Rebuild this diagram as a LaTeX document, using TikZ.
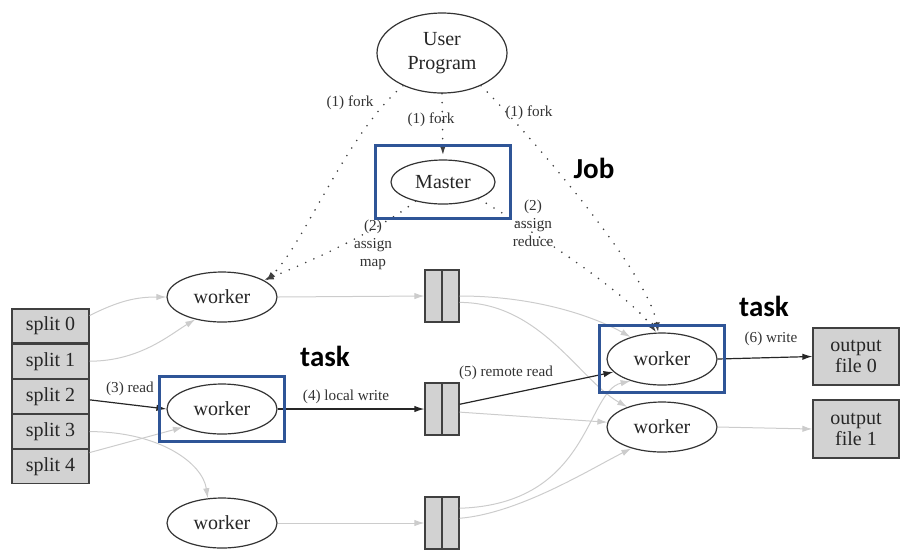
\documentclass[tikz,border=0pt]{standalone}
\usepackage{fontspec}
\setmainfont{Liberation Serif}
\newfontfamily\tagfont{Carlito}
\usetikzlibrary{positioning, fit, shapes.geometric, arrows.meta}
\definecolor{boxblue}{RGB}{47,85,151}

\begin{document}
\begin{tikzpicture}[x=0.5pt, y=-0.5pt]

    \tikzset{
        proc/.style = {ellipse, draw=black!80, line width=0.6pt, inner sep=0pt, minimum width=55pt, minimum height=25pt, font=\fontsize{10}{12}\selectfont, text=black!85},
        splitbox/.style = {rectangle, draw=black!75, line width=0.6pt, fill=gray!35, minimum width=38.5pt, minimum height=17pt, inner sep=0pt, font=\fontsize{10}{12}\selectfont, text=black!85},
        inter/.style = {rectangle, draw=black!75, line width=0.6pt, fill=gray!35, minimum width=17pt, minimum height=26pt, inner sep=0pt},
        outfile/.style = {rectangle, draw=black!75, line width=0.6pt, fill=gray!35, minimum width=43pt, minimum height=28.5pt, inner sep=0pt, align=center, font=\fontsize{10}{10.5}\selectfont, text=black!85},
        lbl/.style = {font=\fontsize{7.6}{9}\selectfont, text=black!80, align=center, inner sep=0pt},
        tagtext/.style = {font=\tagfont\bfseries\fontsize{14.5}{16}\selectfont, inner sep=0pt},
        taskframe/.style = {draw=boxblue, line width=1.2pt, inner sep=3.5pt},
        arrow/.style = {line width=0.6pt, draw=black!85, -{Latex[length=5pt, width=3.2pt]}},
        flow/.style = {line width=0.5pt, draw=gray!40, -{Latex[length=5pt, width=3.2pt]}},
        ctrl/.style = {line width=0.9pt, draw=black!75, dash pattern=on 0pt off 4.5pt, line cap=round, -{Latex[length=5pt, width=3.2pt]}}
    }

    \useasboundingbox (0,0) rectangle (905,559);

    \node (up) [proc, minimum width=65pt, minimum height=40pt, align=center] at (442,53) {User\\Program};
    \node (m) [proc, minimum width=52pt, minimum height=22pt] at (443,182) {Master};

    \node (w1) [proc] at (222,297) {worker};
    \node (w2) [proc] at (222,409) {worker};
    \node (w3) [proc] at (222,523) {worker};

    \node (s0) [splitbox] at (50.5,326) {split 0};
    \node (s1) [splitbox, below=0pt of s0] {split 1};
    \node (s2) [splitbox, below=0pt of s1] {split 2};
    \node (s3) [splitbox, below=0pt of s2] {split 3};
    \node (s4) [splitbox, below=0pt of s3] {split 4};

    \node (f1) [inter] at (442,296) {};
    \node (f2) [inter] at (442,409) {};
    \node (f3) [inter] at (442,523) {};
    \draw [line width=0.6pt, draw=black!75] (f1.north) -- (f1.south);
    \draw [line width=0.6pt, draw=black!75] (f2.north) -- (f2.south);
    \draw [line width=0.6pt, draw=black!75] (f3.north) -- (f3.south);

    \node (r1) [proc, minimum height=26pt] at (662,359) {worker};
    \node (r2) [proc] at (662,427) {worker};

    \node (o0) [outfile] at (856,356.5) {output\\file 0};
    \node (o1) [outfile, minimum height=29pt] at (856,429) {output\\file 1};

    \node (fkl) [lbl] at (350,103) {(1) fork};
    \node (fkm) [lbl] at (431,120) {(1) fork};
    \node (fkr) [lbl] at (529,113) {(1) fork};
    \node (amap) [lbl] at (373,245) {(2)\\assign\\map};
    \node (ared) [lbl] at (533,223) {(2)\\assign\\reduce};
    \node (rd) [lbl] at (130,389) {(3) read};
    \node (lw) [lbl] at (346,397) {(4) local write};
    \node (rr) [lbl] at (506,373) {(5) remote read};
    \node (wr) [lbl] at (771,339) {(6) write};

    \draw [ctrl] (up.220) .. controls +(-57,48) and +(38,-36) .. (w1.20);
    \draw [ctrl, shorten >=2pt] (up.south) -- (m.north);
    \draw [ctrl] (up.-40) .. controls +(50,50) and +(-10,-60) .. (r1.98);
    \draw [ctrl] (m.215) .. controls +(-36,29) and +(43,-17) .. (w1.22);
    \draw [ctrl] (m.-25) .. controls +(50,30) and +(-30,-40) .. (r1.102);

    \draw [flow] (s0.15) .. controls +(30,-15) and +(-30,0) .. (w1.west);
    \draw [flow] (s1.east) .. controls +(50,0) and +(-25,15) .. (w1.220);
    \draw [arrow] (s2.-5) -- (w2.west);
    \draw [flow] (s3.east) .. controls +(70,0) and +(-5,-35) .. (w3.120);
    \draw [flow] (s4.20) -- (w2.205);

    \draw [flow] (w1.east) -- (f1.west);
    \draw [arrow] (w2.east) -- (f2.west);
    \draw [flow] (w3.east) -- (f3.west);

    \draw [flow] (f1.east) .. controls +(81,0) and +(-32,-18) .. (r1.145);
    \draw [flow] (f1.-20) .. controls +(81,0) and +(-48,-27) .. (r2.150);
    \draw [arrow] (f2.15) -- (r1.195);
    \draw [flow] (f2.-10) -- (r2.175);
    \draw [flow] (f3.40) .. controls +(131,-4) and +(-45,10) .. (r1.215);
    \draw [flow] (f3.15) .. controls +(60,-5) and +(-40,20) .. (r2.215);

    \draw [arrow] (r1.east) -- (o0.west);
    \draw [flow] (r2.east) -- (o1.west);

    \node (jobbox) [taskframe, fit=(m), inner xsep=7.5pt, inner ysep=7pt] {};
    \node (tbox1) [taskframe, fit=(w2)] {};
    \node (tbox2) [taskframe, fit=(r1)] {};

    \node (job) [tagtext] at (594,168) {Job};
    \node (task1) [tagtext] at (325,356) {task};
    \node (task2) [tagtext] at (764,306) {task};
\end{tikzpicture}
\end{document}
